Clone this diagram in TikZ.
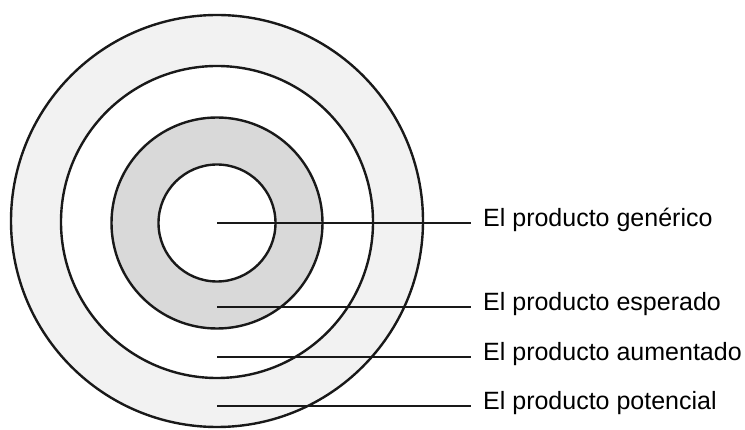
\documentclass[tikz,border=0pt]{standalone}
\usepackage{fontspec}
\setmainfont{Liberation Sans}
\usetikzlibrary{positioning}

\definecolor{grisclaro}{HTML}{F2F2F2}
\definecolor{grismedio}{HTML}{D9D9D9}

\begin{document}
\begin{tikzpicture}[x=1pt, y=-1pt,
  anillo/.style={circle, draw=black!90, line width=2.4pt, inner sep=0pt},
  etiqueta/.style={anchor=west, inner xsep=12pt, inner ysep=0pt,
    text height=18pt, text depth=10pt, font=\fontsize{25}{30}\selectfont},
  guia/.style={line width=1.8pt, draw=black!90}]

\useasboundingbox (0,0) rectangle (745,430);

% Anillos
\node[anillo, fill=grisclaro, minimum size=412pt] (potencial) at (217,221) {};
\node[anillo, fill=white, minimum size=312pt] (aumentado) at (217,222) {};
\node[anillo, fill=grismedio, minimum size=211pt] (esperado) at (217,223) {};
\node[anillo, fill=white, minimum size=117pt] (generico) at (217,223) {};

% Etiquetas
\node[etiqueta] (lgen) at (471,223) {El producto genérico};
\node[etiqueta] (lesp) at (471,307) {El producto esperado};
\node[etiqueta] (laum) at (471,357) {El producto aumentado};
\node[etiqueta] (lpot) at (471,406) {El producto potencial};

% Lineas
\coordinate (pgen) at (217,223);
\coordinate (pesp) at (217,307);
\coordinate (paum) at (217,357);
\coordinate (ppot) at (217,406);
\draw[guia] (pgen) -- (lgen.west);
\draw[guia] (pesp) -- (lesp.west);
\draw[guia] (paum) -- (laum.west);
\draw[guia] (ppot) -- (lpot.west);

\end{tikzpicture}
\end{document}
